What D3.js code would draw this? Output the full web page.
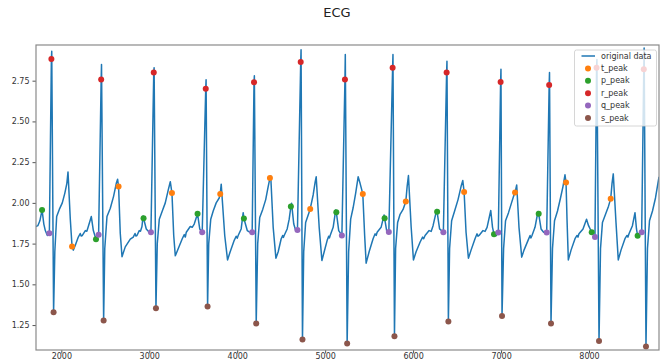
<!DOCTYPE html>
<html><head><meta charset="utf-8">
<script src="https://cdn.jsdelivr.net/npm/d3@7"></script>
<style>html,body{margin:0;padding:0;background:#fff;}svg{display:block;}</style>
</head><body>
<script>
// ---- data ----
const ecgTime = [
 1712,1733,1756,1781,1801,1818,1841,1864,1887,1891,1912,1926,1947,1977,2011,2040,2063,2076,2102,2122,2136,2159,2193,2215,2226,2239,2273,2290,2307,2341,2364,2394,2424,
 2453,2457,2481,2494,2519,2557,2594,2625,2640,2651,2670,2690,2727,2784,2818,2838,2848,2860,2886,2900,2917,2930,2935,2966,2992,3019,
 3051,3055,3076,3091,3114,3148,3182,3216,3239,3258,3278,3296,3330,3375,3398,3410,3421,3466,3488,3511,3549,3574,3602,
 3642,3646,3663,3676,3699,3727,3761,3795,3807,3818,3858,3890,3920,3966,3988,4000,4011,4045,4068,4076,4114,4142,4170,
 4191,4195,4216,4233,4256,4290,4324,4352,4372,4381,4409,4440,4466,4500,4517,4525,4534,4568,4591,4610,4618,4643,4665,4685,
 4722,4726,4742,4756,4778,4830,4864,4887,4898,4932,4963,4989,5023,5040,5048,5057,5091,5120,5127,5154,5190,
 5225,5229,5250,5267,5290,5318,5347,5375,5397,5428,5449,5466,5500,5545,5568,5580,5591,5636,5670,5676,5699,5724,
 5767,5771,5788,5801,5824,5852,5886,5917,5932,5947,5978,6004,6034,6080,6108,6120,6136,6182,6205,6227,6269,6273,6301,6324,6344,
 6381,6385,6401,6415,6438,6472,6511,6545,6565,6580,6602,6629,6659,6704,6727,6738,6750,6795,6818,6841,6883,6903,6920,6945,6969,
 6995,6999,7011,7029,7051,7085,7119,7148,7159,7178,7204,7235,7261,7307,7330,7340,7352,7386,7420,7428,7455,7484,7519,
 7547,7551,7568,7585,7608,7642,7676,7704,7727,7739,7750,7765,7796,7841,7864,7875,7886,7932,7972,7995,8031,8068,
 8086,8090,8114,8131,8153,8188,8222,8247,8262,8276,8307,8333,8364,8409,8432,8443,8455,8494,8523,8540,8553,8599,
 8623,8627,8648,8665,8688,8722,8756,8796
];
const ecgValue = [
 1.855,1.86,1.89,1.957,1.87,1.83,1.80,1.814,2.883,2.93,1.329,1.70,1.916,1.96,2.00,2.06,2.12,2.19,1.90,1.732,1.71,1.74,1.79,1.812,1.797,1.80,1.83,1.826,1.855,1.916,1.83,1.777,1.804,
 2.757,2.85,1.278,1.72,1.916,1.967,2.04,2.12,2.145,2.10,1.815,1.67,1.73,1.777,1.79,1.812,1.797,1.80,1.83,1.826,1.855,1.92,1.906,1.84,1.824,1.82,
 2.80,2.83,1.354,1.75,1.90,1.95,2.00,2.08,2.13,2.06,1.80,1.675,1.72,1.78,1.805,1.79,1.82,1.855,1.85,1.87,1.933,1.84,1.82,
 2.70,2.755,1.364,1.75,1.90,1.95,2.00,2.03,2.055,2.115,1.80,1.65,1.70,1.77,1.795,1.783,1.80,1.84,1.94,1.904,1.83,1.82,1.82,
 2.74,2.78,1.26,1.75,1.91,1.96,2.02,2.10,2.152,2.165,1.85,1.66,1.70,1.78,1.80,1.788,1.80,1.84,1.90,1.977,1.998,1.87,1.83,1.834,
 2.865,2.94,1.161,1.70,1.88,1.963,2.05,2.13,2.16,1.85,1.646,1.70,1.77,1.795,1.785,1.80,1.85,1.957,1.943,1.83,1.80,
 2.757,2.91,1.137,1.70,1.90,1.97,2.06,2.16,2.12,2.055,1.80,1.63,1.70,1.78,1.81,1.80,1.82,1.85,1.926,1.906,1.83,1.822,
 2.83,2.91,1.182,1.72,1.88,1.93,1.96,2.008,2.10,2.168,1.85,1.65,1.70,1.76,1.79,1.78,1.80,1.83,1.825,1.86,1.96,1.945,1.84,1.83,1.82,
 2.80,2.87,1.272,1.72,1.89,1.95,2.02,2.10,2.137,2.067,1.82,1.66,1.71,1.78,1.81,1.795,1.80,1.83,1.825,1.85,1.953,1.85,1.808,1.80,1.818,
 2.742,2.82,1.305,1.72,1.89,1.94,2.00,2.05,2.063,2.11,1.85,1.667,1.71,1.77,1.80,1.785,1.80,1.85,1.947,1.933,1.84,1.82,1.818,
 2.724,2.80,1.26,1.72,1.89,1.95,2.03,2.10,2.172,2.125,1.90,1.65,1.71,1.78,1.80,1.79,1.81,1.84,1.90,1.86,1.82,1.79,
 2.83,2.88,1.152,1.72,1.88,1.93,1.98,2.026,2.12,2.178,1.88,1.65,1.71,1.78,1.80,1.79,1.81,1.86,1.94,1.84,1.798,1.82,
 2.82,2.95,1.118,1.72,1.89,1.95,2.03,2.16
];
const tPeakTime = [2122,2651,3258,3807,4372,4830,5428,5917,6580,7159,7739,8247];
const tPeakValue = [1.732,2.10,2.06,2.055,2.152,1.963,2.055,2.008,2.067,2.063,2.125,2.026];
const pPeakTime = [1781,2394,2935,3549,4076,4610,5127,5676,6273,6920,7428,8031,8553];
const pPeakValue = [1.957,1.777,1.906,1.933,1.904,1.977,1.943,1.906,1.945,1.808,1.933,1.82,1.798];
const rPeakTime = [1887,2453,3051,3642,4191,4722,5225,5767,6381,6995,7547,8086,8623];
const rPeakValue = [2.883,2.757,2.80,2.70,2.74,2.865,2.757,2.83,2.80,2.742,2.724,2.83,2.82];
const qPeakTime = [1864,2424,3019,3602,4170,4685,5190,5724,6344,6969,7519,8068,8599];
const qPeakValue = [1.814,1.804,1.82,1.82,1.82,1.834,1.80,1.822,1.82,1.818,1.818,1.79,1.82];
const sPeakTime = [1912,2481,3076,3663,4216,4742,5250,5788,6401,7011,7568,8114,8648];
const sPeakValue = [1.329,1.278,1.354,1.364,1.26,1.161,1.137,1.182,1.272,1.305,1.26,1.152,1.118];
const xTicks = [2000,3000,4000,5000,6000,7000,8000];
const yTicks = [1.25,1.50,1.75,2.00,2.25,2.50,2.75];
const legendLabels = ["original data","t_peak","p_peak","r_peak","q_peak","s_peak"];
const seriesColors = ["#1f77b4","#ff7f0e","#2ca02c","#d62728","#9467bd","#8c564b"];
const chartTitle = "ECG";

// ---- drawing ----
const W = 664, H = 361;
const L = 36, R = 659, T = 45, B = 350;
const svg = d3.select("body").append("svg").attr("width", W).attr("height", H)
  .style("font-family", "'DejaVu Sans', sans-serif");

const x = d3.scaleLinear().domain([1712, 8796]).range([L, R]);
const y = d3.scaleLinear().domain([1.097, 2.969]).range([B, T]);

svg.append("text").attr("x", 337).attr("y", 12).attr("text-anchor", "middle")
  .attr("dominant-baseline", "central").attr("font-size", 13).attr("fill", "#222").text(chartTitle);

svg.append("clipPath").attr("id", "plotclip").append("rect")
  .attr("x", L).attr("y", T).attr("width", R - L).attr("height", B - T);

const plot = svg.append("g").attr("clip-path", "url(#plotclip)");
const pts = ecgTime.map((t, i) => [t, ecgValue[i]]);
plot.append("path").datum(pts)
  .attr("d", d3.line().x(d => x(d[0])).y(d => y(d[1])))
  .attr("fill", "none").attr("stroke", seriesColors[0]).attr("stroke-width", 1.5)
  .attr("stroke-linejoin", "round");

const markerSets = [
  [tPeakTime, tPeakValue, seriesColors[1]],
  [pPeakTime, pPeakValue, seriesColors[2]],
  [rPeakTime, rPeakValue, seriesColors[3]],
  [qPeakTime, qPeakValue, seriesColors[4]],
  [sPeakTime, sPeakValue, seriesColors[5]]
];
markerSets.forEach(([ts, vs, c]) => {
  plot.append("g").selectAll("circle").data(ts.map((t, i) => [t, vs[i]])).join("circle")
    .attr("cx", d => x(d[0])).attr("cy", d => y(d[1])).attr("r", 3).attr("fill", c);
});

// axes
const xAxis = svg.append("g").attr("transform", `translate(0,${B})`)
  .call(d3.axisBottom(x).tickValues(xTicks).tickFormat(d3.format("d")).tickSize(3.5).tickPadding(0));
const yAxis = svg.append("g").attr("transform", `translate(${L},0)`)
  .call(d3.axisLeft(y).tickValues(yTicks).tickFormat(d3.format(".2f")).tickSize(3.5).tickPadding(3));
[xAxis, yAxis].forEach(a => {
  a.select(".domain").remove();
  a.selectAll(".tick line").attr("stroke", "#555");
  a.selectAll(".tick text").attr("font-size", 8).attr("fill", "#333")
    .style("font-family", "'DejaVu Sans', sans-serif");
});

svg.append("rect").attr("x", L).attr("y", T).attr("width", R - L).attr("height", B - T)
  .attr("fill", "none").attr("stroke", "#8a8a8a").attr("stroke-width", 1.2);

// legend
const lg = svg.append("g");
lg.append("rect").attr("x", 574.5).attr("y", 50).attr("width", 82).attr("height", 76).attr("rx", 2)
  .attr("fill", "#fff").attr("fill-opacity", 0.8).attr("stroke", "#cccccc").attr("stroke-width", 0.8);
legendLabels.forEach((lab, i) => {
  const yy = 56 + i * 12.4;
  if (i === 0) {
    lg.append("line").attr("x1", 581.5).attr("x2", 595).attr("y1", yy).attr("y2", yy)
      .attr("stroke", seriesColors[0]).attr("stroke-width", 1.5);
  } else {
    lg.append("circle").attr("cx", 588).attr("cy", yy).attr("r", 3).attr("fill", seriesColors[i]);
  }
  lg.append("text").attr("x", 601).attr("y", yy).attr("dominant-baseline", "central")
    .attr("font-size", 8).attr("fill", "#333").text(lab);
});
</script>
</body></html>
